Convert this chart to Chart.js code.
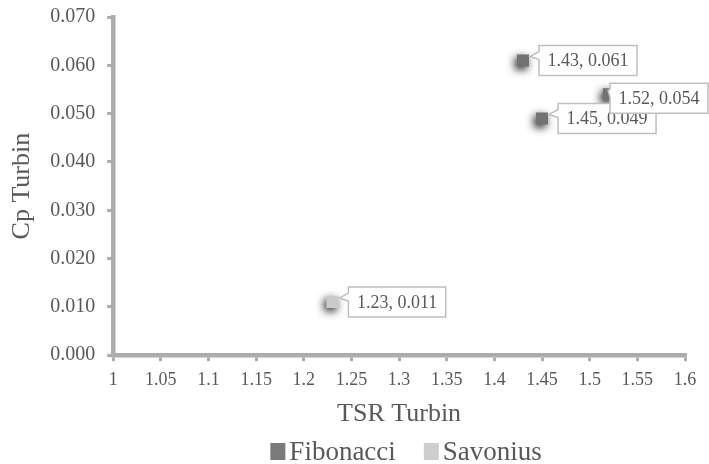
<!DOCTYPE html>
<html><head><meta charset="utf-8">
<script src="https://cdn.jsdelivr.net/npm/chart.js@4/dist/chart.umd.min.js"></script>
<style>html,body{margin:0;padding:0;background:#fff}#wrap{width:709px;height:464px}</style>
</head><body><div id="wrap"><canvas id="c" width="709" height="464"></canvas></div>
<script>
const seriesNames = ["Fibonacci", "Savonius"];
const fibTSR = [1.43, 1.45, 1.52];
const fibCp = [0.061, 0.049, 0.054];
const savTSR = [1.23];
const savCp = [0.011];
const xTickLabels = ["1","1.05","1.1","1.15","1.2","1.25","1.3","1.35","1.4","1.45","1.5","1.55","1.6"];
const yTickLabels = ["0.000","0.010","0.020","0.030","0.040","0.050","0.060","0.070"];

const FONT = "'Liberation Serif','Times New Roman',serif";
const TXT = '#595959';
const AX = '#aeabab';
const legendColors = ['#7a7a7a', '#cfcdcd'];

const shadowPlugin = {
  id: 'shadow',
  beforeDatasetsDraw(chart) {
    const ctx = chart.ctx; ctx.save();
    ctx.shadowColor = 'rgba(0,0,0,0.9)'; ctx.shadowBlur = 8; ctx.shadowOffsetX = -2; ctx.shadowOffsetY = 3;
  },
  afterDatasetsDraw(chart) { chart.ctx.restore(); }
};

const calloutPlugin = {
  id: 'callout',
  afterDatasetsDraw(chart) {
    const ctx = chart.ctx;
    chart.data.datasets.forEach((ds, di) => {
      const meta = chart.getDatasetMeta(di);
      meta.data.forEach((pt, i) => {
        const v = ds.data[i];
        const text = v.x.toFixed(2) + ', ' + v.y.toFixed(3);
        ctx.save();
        ctx.font = '18px ' + FONT;
        const w = ctx.measureText(text).width + 17;
        const h = 30;
        let left = pt.x + 16, top = pt.y - 15;
        if (left + w > chart.width - 1) { left = chart.width - 1 - w; top = pt.y - 11; }
        ctx.fillStyle = '#fff'; ctx.strokeStyle = '#bfbfbf'; ctx.lineWidth = 1.5;
        ctx.beginPath();
        ctx.moveTo(left, top);
        ctx.lineTo(left + w, top);
        ctx.lineTo(left + w, top + h);
        ctx.lineTo(left, top + h);
        ctx.lineTo(left, top + 14);
        ctx.lineTo(Math.min(pt.x + 7, left - 2), pt.y - 4);
        ctx.lineTo(left, top + 6);
        ctx.closePath();
        ctx.fill(); ctx.stroke();
        ctx.fillStyle = TXT; ctx.textBaseline = 'middle'; ctx.textAlign = 'left';
        ctx.fillText(text, left + 8.5, top + h / 2 + 1);
        ctx.restore();
      });
    });
  }
};

const legendPlugin = {
  id: 'customLegend',
  afterDraw(chart) {
    const ctx = chart.ctx;
    ctx.save();
    ctx.font = '27px ' + FONT;
    const box = 15, gap = 4, itemGap = 28;
    const widths = seriesNames.map(n => ctx.measureText(n).width);
    const total = widths.reduce((a, b) => a + b, 0) + seriesNames.length * (box + gap) + itemGap * (seriesNames.length - 1);
    const ca = chart.chartArea;
    let x = (ca.left + ca.right) / 2 + 7 - total / 2;
    const cy = 451;
    seriesNames.forEach((n, i) => {
      ctx.fillStyle = legendColors[i];
      ctx.fillRect(x, cy - 8, box, 17);
      x += box + gap;
      ctx.fillStyle = TXT; ctx.textBaseline = 'alphabetic'; ctx.textAlign = 'left';
      ctx.fillText(n, x, cy + 9);
      x += widths[i] + itemGap;
    });
    ctx.restore();
  }
};

new Chart(document.getElementById('c'), {
  type: 'scatter',
  data: {
    datasets: [
      { label: seriesNames[0], data: fibTSR.map((x, i) => ({x, y: fibCp[i]})),
        backgroundColor: '#727272', borderColor: '#727272', pointStyle: 'rect', pointRadius: 8.5, pointHoverRadius: 8.5, borderWidth: 0 },
      { label: seriesNames[1], data: savTSR.map((x, i) => ({x, y: savCp[i]})),
        backgroundColor: '#cbcaca', borderColor: '#cbcaca', pointStyle: 'rect', pointRadius: 8.5, pointHoverRadius: 8.5, borderWidth: 0 }
    ]
  },
  options: {
    responsive: false, animation: false,
    layout: { padding: { top: 17, right: 24, left: 4, bottom: 34 } },
    plugins: { tooltip: { enabled: false }, legend: { display: false } },
    scales: {
      x: { type: 'linear', min: 1, max: 1.6,
        ticks: { stepSize: 0.05, color: TXT, font: { family: FONT, size: 18 }, padding: 8, maxRotation: 0, autoSkip: false,
          callback: (v, i) => xTickLabels[i] },
        grid: { drawOnChartArea: false, drawTicks: true, tickLength: 6, color: AX, lineWidth: 3 },
        border: { color: AX, width: 4.5 },
        title: { display: true, text: 'TSR Turbin', color: TXT, font: { family: FONT, size: 26 }, padding: { top: 0, bottom: 0 } } },
      y: { min: 0, max: 0.07,
        afterFit(s) { s.paddingTop = 10; },
        ticks: { stepSize: 0.01, color: TXT, font: { family: FONT, size: 20 }, padding: 12,
          callback: (v, i) => yTickLabels[i] },
        grid: { drawOnChartArea: false, drawTicks: true, tickLength: 6, color: AX, lineWidth: 3 },
        border: { color: AX, width: 4.5 },
        title: { display: true, text: 'Cp Turbin', color: TXT, font: { family: FONT, size: 26 }, padding: { top: 3, bottom: 0 } } }
    }
  },
  plugins: [shadowPlugin, calloutPlugin, legendPlugin]
});
</script></body></html>
